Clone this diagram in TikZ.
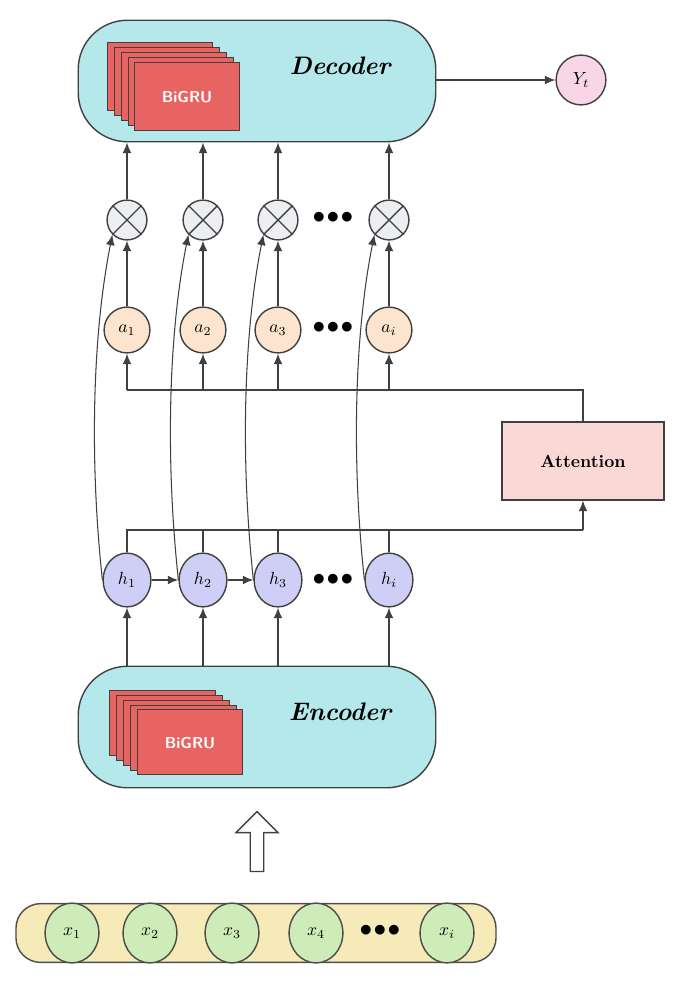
\documentclass[tikz,border=0pt]{standalone}
\usetikzlibrary{arrows.meta,positioning,shapes.arrows,shapes.geometric}
\definecolor{boxcyan}{RGB}{180,232,234}
\definecolor{gruRed}{RGB}{232,100,98}
\definecolor{aFill}{RGB}{252,228,206}
\definecolor{hFill}{RGB}{206,206,246}
\definecolor{mFill}{RGB}{236,238,242}
\definecolor{attFill}{RGB}{250,216,214}
\definecolor{yFill}{RGB}{248,214,230}
\definecolor{barFill}{RGB}{246,234,184}
\definecolor{xFill}{RGB}{206,236,184}
\tikzset{
  block/.style={draw=black!75,thick,fill=boxcyan,rounded corners=28pt,minimum width=359pt*0.5669,minimum height=122pt*0.5669},
  unit/.style={draw=black!75,thick,circle,inner sep=0pt,minimum size=44*0.5669pt},
  mult/.style={unit,fill=mFill,minimum size=40*0.5669pt},
  hid/.style={draw=black!75,thick,ellipse,fill=hFill,inner sep=0pt,minimum width=48*0.5669pt,minimum height=54*0.5669pt},
  inp/.style={draw=black!70,thick,ellipse,fill=xFill,inner sep=0pt,minimum width=54*0.5669pt,minimum height=60*0.5669pt},
  gru/.style={draw=black!75,fill=gruRed,minimum width=105*0.5669pt,minimum height=68*0.5669pt,text=white,font=\sffamily\bfseries\small},
  dots/.style={font=\Large,inner sep=0pt},
  arr/.style={-{Latex[length=6pt,width=5pt]},draw=black!75,thick},
  title/.style={font=\Large\bfseries\itshape}
}
\begin{document}
\begin{tikzpicture}[x=0.02cm,y=-0.02cm]
\useasboundingbox (0,0) rectangle (685,994);

% decoder
\node[block] (dec) at (257,81) {};
\foreach \k in {4,...,1}
  \draw[black!75,fill=gruRed] (135-7*\k,62-5*\k) rectangle +(105,68);
\node[gru] (gd) at (187,96) {\raisebox{-8pt}{BiGRU}};
\node[title] at (340,66) {Decoder};
\node[unit,fill=yFill,minimum size=50*0.5669pt] (y) at (581,80) {$Y_t$};
\draw[arr] (dec.east|-y) -- (y);

% multiply and attention weights
\foreach \n/\x/\s in {1/127/1,2/203/2,3/278/3,4/389/i}{
  \node[mult] (m\n) at (\x,220) {};
  \draw[black!75,thick] (m\n.north west) -- (m\n.south east) (m\n.north east) -- (m\n.south west);
  \node[unit,fill=aFill,minimum height=46*0.5669pt] (a\n) at (\x,330) {$a_{\s}$};
  \draw[arr] (m\n) -- (m\n|-dec.south);
  \draw[arr] (a\n) -- (m\n);
}
\node[dots] at (333,218) {$\bullet\!\bullet\!\bullet$};
\node[dots] at (333,328) {$\bullet\!\bullet\!\bullet$};

% attention
\node[draw=black!75,thick,fill=attFill,minimum width=163*0.5669pt,minimum height=78*0.5669pt,font=\bfseries] (att) at (583,461) {Attention};
\coordinate (top) at (583,390);
\draw[black!75,thick] (att.north) -- (top) -- (top-|a1);
\foreach \n in {1,...,4}
  \draw[arr] (a\n|-top) -- (a\n);

% hidden states
\foreach \n/\x/\s in {1/127/1,2/203/2,3/278/3,4/389/i}
  \node[hid] (h\n) at (\x,580) {$h_{\s}$};
\node[dots] at (333,580) {$\bullet\!\bullet\!\bullet$};
\draw[arr] (h1) -- (h2);
\draw[arr] (h2) -- (h3);
\coordinate (bot) at (583,530);
\draw[black!75,thick] (h1.north) -- (h1|-bot) -- (bot);
\foreach \n in {2,...,4}
  \draw[black!75,thick] (h\n.north) -- (h\n|-bot);
\draw[arr] (bot) -- (att.south);
\foreach \n in {1,...,4}
  \draw[arr,semithick] (h\n.west) .. controls +(-13,-120) and +(-20,100) .. (m\n.south west);

% encoder
\node[block] (enc) at (257,727) {};
\foreach \k in {4,...,1}
  \draw[black!75,fill=gruRed] (137-7*\k,710-5*\k) rectangle +(106,65);
\node[gru,minimum height=65*0.5669pt] (ge) at (190,742) {\raisebox{-8pt}{BiGRU}};
\node[title] at (340,712) {Encoder};
\foreach \n in {1,...,4}
  \draw[arr] (h\n|-enc.north) -- (h\n);

% input
\node[draw=black!70,thick,fill=barFill,rounded corners=14pt,minimum width=482*0.5669pt,minimum height=59*0.5669pt] (bar) at (256,933) {};
\foreach \n/\x/\s in {1/72/1,2/150/2,3/232/3,4/316/4,5/447/i}
  \node[inp] (x\n) at (\x,933) {$x_{\s}$};
\node[dots] at (380,931) {$\bullet\!\bullet\!\bullet$};
\node[draw=black!75,thick,fill=white,single arrow,shape border rotate=90,minimum height=60*0.5669pt,minimum width=42*0.5669pt,single arrow head extend=5pt,inner sep=2pt] (in) at (257,845) {};
\end{tikzpicture}
\end{document}
